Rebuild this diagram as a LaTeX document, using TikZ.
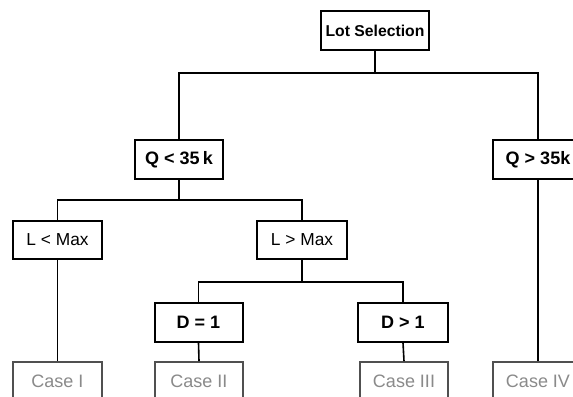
\documentclass[tikz,border=0pt]{standalone}
\usepackage{fontspec}
\setmainfont{Liberation Sans}
\usetikzlibrary{positioning, calc}
\definecolor{CaseGray}{HTML}{8A8A8A}
\definecolor{CaseEdge}{HTML}{505050}

\tikzset{
	decision/.style={draw, line width=1.5pt, fill=white, inner sep=0pt, minimum height=29pt, minimum width=66pt, font=\fontsize{13.5}{15}\selectfont\bfseries},
	option/.style={decision, font=\fontsize{13}{15}\selectfont},
	outcome/.style={decision, draw=CaseEdge, text=CaseGray, font=\fontsize{13.5}{15}\selectfont},
	link/.style={line width=1.2pt, black},
}

\begin{document}
\begin{tikzpicture}[x=0.75pt, y=-0.75pt]
	\useasboundingbox (0,0) rectangle (573,396);
	\clip (0,0) rectangle (573,396);

	% levels of the horizontal branches
	\coordinate (bus1) at (0,73);
	\coordinate (bus2) at (0,200);
	\coordinate (bus3) at (0,282);

	\node[decision, minimum width=81pt, font=\fontsize{11.8}{13}\selectfont\bfseries] (lot) at (375,30.5) {Lot Selection};

	\node[decision] (qlow) at (179,159.5) {Q < 35\,k};
	\node[decision, minimum width=68pt] (qhigh) at (538,159.5) {Q > 35k};

	\node[option, minimum width=67pt, minimum height=28.5pt] (lless) at (57.5,240) {L < Max};
	\node[option, minimum width=67pt, minimum height=28.5pt] (lmore) at (302,239.5) {L > Max};

	\node[decision] (done) at (198.5,322.5) {D = 1};
	\node[decision, minimum width=67pt] (dmore) at (403,322.5) {D > 1};

	\node[outcome, minimum width=67pt] (caseI) at (57.5,381.5) {Case I};
	\node[outcome, minimum width=66pt] (caseII) at (199,381.5) {Case II};
	\node[outcome, minimum width=66pt] (caseIII) at (404,381.5) {Case III};
	\node[outcome, minimum width=68pt] (caseIV) at (538,381.5) {Case IV};

	% first split
	\draw[link] (lot.south) -- (lot.south |- bus1);
	\draw[link] (qlow.north) |- (bus1 -| qhigh) -- (qhigh.north);
%
	% quantity below the limit
	\draw[link] (qlow.south) -- (qlow.south |- bus2);
	\draw[link] (lless.north) |- (bus2 -| lmore) -- (lmore.north);
%
	\draw[link] (lmore.south) -- (lmore.south |- bus3);
	\draw[link] (done.north) |- (bus3 -| dmore) -- (dmore.north);
%
	% leaves
	\draw[link] (lless.south) -- (caseI.north);
	\draw[link] (done.south) -- (caseII.north);
	\draw[link] (dmore.south) -- (caseIII.north);
	\draw[link] (qhigh.south) -- (caseIV.north);
\end{tikzpicture}
\end{document}
